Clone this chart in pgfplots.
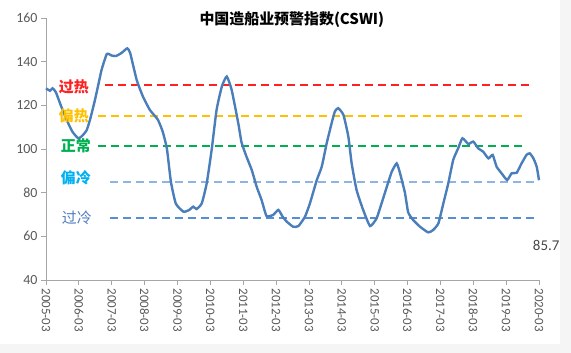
\documentclass[border=0pt]{standalone}
\usepackage{pgfplots}
\pgfplotsset{compat=1.18}
\usepackage{fontspec}
\setmainfont{Carlito}
\newfontfamily\cjk{Noto Sans CJK SC}
\definecolor{lineblue}{HTML}{4A7EBB}
\definecolor{axgray}{HTML}{A6A6A6}
\definecolor{tickgray}{HTML}{595959}
\definecolor{hotred}{HTML}{FF2020}
\definecolor{warmgold}{HTML}{FFC000}
\definecolor{normgreen}{HTML}{00B050}
\definecolor{coolline}{HTML}{8EB4E3}
\definecolor{coollabel}{HTML}{00B0F0}
\definecolor{coldline}{HTML}{558ED5}
\definecolor{coldlabel}{HTML}{4F7CC0}
\begin{document}
\begin{tikzpicture}
\path[use as bounding box] (0,0) rectangle (571bp,353bp);
\fill[black!4] (560bp,0) rectangle (571bp,353bp);
\fill[black!4] (0,0) rectangle (571bp,9bp);
\begin{axis}[
  at={(46bp,73bp)}, anchor=south west,
  scale only axis, width=493bp, height=262bp,
  xmin=0, xmax=15, ymin=40, ymax=160,
  axis x line*=bottom, axis y line*=left,
  axis line style={axgray, line width=0.8pt},
  xtick={0,...,15},
  xticklabels={2005-03,2006-03,2007-03,2008-03,2009-03,2010-03,2011-03,2012-03,2013-03,2014-03,2015-03,2016-03,2017-03,2018-03,2019-03,2020-03},
  xticklabel style={rotate=-90, anchor=west, font=\fontsize{13}{14}\selectfont, text=tickgray},
  ytick={40,60,...,160},
  yticklabel style={font=\fontsize{14}{15}\selectfont, text=tickgray},
  /pgf/number format/assume math mode=true,
  tick style={axgray, line width=0.8pt},
  tick align=outside, major tick length=5bp,
  clip=false,
]
% threshold lines
\addplot[hotred, line width=1.8pt, dash pattern=on 8bp off 5bp] coordinates {(1.8,129.4) (14.78,129.4)};
\addplot[warmgold, line width=1.8pt, dash pattern=on 8bp off 5bp] coordinates {(1.59,115.1) (14.57,115.1)};
\addplot[normgreen, line width=1.8pt, dash pattern=on 8bp off 5bp] coordinates {(1.59,101.4) (14.57,101.4)};
\addplot[coolline, line width=1.8pt, dash pattern=on 8bp off 5bp] coordinates {(1.95,85.0) (14.93,85.0)};
\addplot[coldline, line width=1.8pt, dash pattern=on 8bp off 5bp] coordinates {(1.95,68.3) (14.93,68.3)};
% CSWI
\addplot[lineblue, line width=2.4pt, smooth, tension=0.3] coordinates {
(0,127.8) (0.12,126.7) (0.2,127.8) (0.3,126) (0.45,120) (0.63,113.3) (0.8,108) (0.98,104.9)
(1.1,106) (1.24,108.7) (1.35,114) (1.49,122.5) (1.6,130) (1.69,136.2) (1.85,143.5) (2.0,142.8)
(2.13,142.6) (2.3,144) (2.47,146.1) (2.56,144) (2.76,131.6) (2.95,124) (3.16,117.9) (3.4,113.5)
(3.55,108) (3.68,100) (3.8,85) (3.95,75) (4.18,71.3) (4.35,72) (4.48,73.6) (4.58,72.5)
(4.74,75.1) (4.89,84.3) (5.04,99.6) (5.19,117.9) (5.35,128.6) (5.5,133.2) (5.65,127) (5.85,111.8)
(5.95,103) (6.1,96.5) (6.26,90.4) (6.41,82.7) (6.56,76.6) (6.71,69.3) (6.91,69.8) (7.07,72.1)
(7.2,69) (7.32,66.8) (7.52,64.4) (7.68,64.7) (7.88,69) (8.03,75.1) (8.24,85.8) (8.39,91.9)
(8.54,102.6) (8.69,111.8) (8.79,117.2) (8.89,118.7) (9.05,115.6) (9.2,105.6) (9.3,93.4) (9.45,81.2)
(9.65,72.1) (9.86,64.7) (10.06,68.3) (10.21,75.1) (10.37,82.7) (10.52,89.6) (10.67,93.4) (10.77,89)
(10.92,80) (11.02,71) (11.17,67.5) (11.38,64.4) (11.63,61.8) (11.78,62.9) (11.94,66) (12.09,75.1)
(12.24,84.3) (12.39,95) (12.54,100.3) (12.67,104.9) (12.85,102.3) (13,103.4) (13.15,100.3) (13.3,98.8)
(13.46,95.7) (13.59,97.3) (13.71,91.9) (13.86,88.9) (14.03,85.8) (14.17,88.9) (14.32,89.1) (14.47,93.4)
(14.62,97.3) (14.72,98) (14.83,95.7) (14.93,91.9) (15,85.7)
};
% labels
\node[font=\cjk\bfseries\fontsize{15}{16}\selectfont] at (axis cs:7.48,159.1) {中国造船业预警指数(CSWI)};
\node[font=\cjk\bfseries\fontsize{15}{16}\selectfont, text=hotred] at (axis cs:0.85,128.4) {过热};
\node[font=\cjk\bfseries\fontsize{15}{16}\selectfont, text=warmgold] at (axis cs:0.85,115.1) {偏热};
\node[font=\cjk\bfseries\fontsize{15}{16}\selectfont, text=normgreen] at (axis cs:0.91,101.4) {正常};
\node[font=\cjk\bfseries\fontsize{15}{16}\selectfont, text=coollabel] at (axis cs:0.91,86.7) {偏冷};
\node[font=\cjk\fontsize{15}{16}\selectfont, text=coldlabel] at (axis cs:0.94,68.4) {过冷};
\node[font=\fontsize{15}{16}\selectfont, text=tickgray!80!black] at (axis cs:15.22,55.6) {85.7};
\end{axis}
\end{tikzpicture}
\end{document}
